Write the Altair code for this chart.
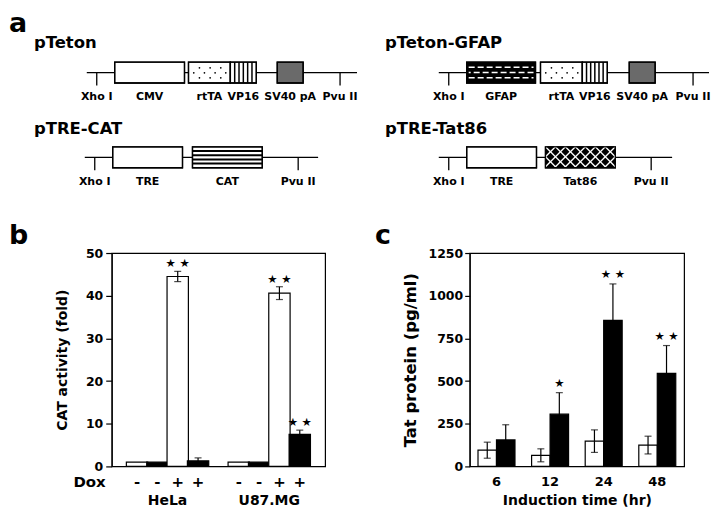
import altair as alt
import pandas as pd

FONT = "DejaVu Sans"

# ---------------- panel a : plasmid maps (map units along each backbone) ----------------
plasmid_names = ["pTeton", "pTeton-GFAP", "pTRE-CAT", "pTRE-Tat86"]
backbone_length = [271, 271, 234, 234]
xho_site = [10, 10, 10, 10]
pvu_site = [254, 255, 214, 213]
element_plasmid = [0, 0, 0, 0, 1, 1, 1, 1, 2, 2, 3, 3]
element_name = ["CMV", "rtTA", "VP16", "SV40 pA", "GFAP", "rtTA", "VP16", "SV40 pA",
                "TRE", "CAT", "TRE", "Tat86"]
element_start = [28, 102, 144, 191, 28, 102, 144, 191, 28, 108, 28, 107]
element_end = [98, 144, 170, 217, 97, 144, 169, 217, 98, 178, 98, 177]
element_pattern = ["open", "dots", "vstripes", "gray", "dashes", "dots", "vstripes", "gray",
                   "open", "hstripes", "open", "crosshatch"]
site_names = ["Xho I", "Pvu II"]
panel_letters = ["a", "b", "c"]

# layout of the four maps (page pixels)
map_origin_x = [86, 439, 84, 439]
map_line_y = [72, 72, 157, 157]
map_title_x = [33, 385, 33, 385]
map_title_y = [47, 47, 134, 134]
BOX_H = 10.5
LABEL_DY = 25
SITE_LEN = 13

# ---------------- panel b : CAT activity ----------------
b_position = [1, 2, 3, 4, 6, 7, 8, 9]
b_cell_line = ["HeLa"] * 4 + ["U87.MG"] * 4
b_bar_fill = ["open", "solid", "open", "solid"] * 2
b_dox = ["-", "-", "+", "+"] * 2
b_value = [1.0, 1.0, 44.5, 1.3, 1.0, 1.0, 40.6, 7.5]
b_err = [0, 0, 1.2, 0.7, 0, 0, 1.5, 1.0]
b_stars = ["", "", "★ ★", "", "", "", "★ ★", "★ ★"]

# ---------------- panel c : Tat protein ----------------
c_time = ["6", "12", "24", "48"]
c_series = ["uninduced", "induced"]
c_uninduced = [95, 65, 148, 125]
c_uninduced_err = [47, 38, 66, 52]
c_induced = [155, 306, 855, 545]
c_induced_err = [89, 126, 214, 163]
c_induced_stars = ["", "★", "★ ★", "★ ★"]

# =============== build panel a ===============
fill_of = {"open": "white", "dots": "white", "vstripes": "white", "gray": "#6a6a6a",
           "dashes": "black", "hstripes": "white", "crosshatch": "black"}

backbone = pd.DataFrame({
    "x": map_origin_x,
    "x2": [o + l for o, l in zip(map_origin_x, backbone_length)],
    "y": map_line_y,
})
site_rows = []
for i in range(4):
    for nm, s in zip(site_names, [xho_site[i], pvu_site[i]]):
        site_rows.append({"x": map_origin_x[i] + s, "y": map_line_y[i],
                          "y2": map_line_y[i] + SITE_LEN, "ly": map_line_y[i] + LABEL_DY, "text": nm})
sites = pd.DataFrame(site_rows)

box_rows, vlines, hlines, dashes, hatch, dots = [], [], [], [], [], []
for p, nm, s, e, pat in zip(element_plasmid, element_name, element_start, element_end, element_pattern):
    ox, ly = map_origin_x[p], map_line_y[p]
    x0, x1, top, bot = ox + s, ox + e, ly - BOX_H, ly + BOX_H
    box_rows.append({"x": x0, "x2": x1, "y": top, "y2": bot, "pattern": pat, "text": nm,
                     "cx": (x0 + x1) / 2, "ly": ly + LABEL_DY})
    if pat == "vstripes":
        n = 6
        for k in range(1, n):
            vlines.append({"x": x0 + k * (x1 - x0) / n, "y": top, "y2": bot})
    elif pat == "hstripes":
        n = 5
        for k in range(1, n):
            hlines.append({"x": x0, "x2": x1, "y": top + k * (bot - top) / n})
    elif pat == "dashes":
        for r, dy in enumerate([-5.3, 0, 5.3]):
            dashes.append({"x": x0 + 2, "x2": x1 - 2, "y": ly + dy, "row": r % 2})
    elif pat == "dots":
        for r, dy in enumerate([-4.7, 0.3, 5.3]):
            xx = x0 + (11 if r % 2 == 0 else 5.3)
            while xx < x1 - 3:
                dots.append({"x": xx, "y": ly + dy})
                xx += 10.7
    elif pat == "crosshatch":
        h, step = bot - top, 10
        c = x0 - 3 * step
        while c <= x1 + 3 * step:
            t0, t1 = max(0, x0 - c), min(h, x1 - c)
            if t1 > t0:
                hatch.append({"x": c + t0, "y": top + t0, "x2": c + t1, "y2": top + t1})
            t0, t1 = max(0, c - x1), min(h, c - x0)
            if t1 > t0:
                hatch.append({"x": c - t0, "y": top + t0, "x2": c - t1, "y2": top + t1})
            c += step
boxes = pd.DataFrame(box_rows)
titles = pd.DataFrame({"x": map_title_x, "y": map_title_y, "text": plasmid_names})

# panel a plot area: page x 111..712, page y 40..188 (content left/above drawn by extrapolation)
AXS = alt.Scale(domain=[111, 712], nice=False, zero=False)
AYS = alt.Scale(domain=[188, 40], nice=False, zero=False)
LETTER_Y = -30


def ax(f):
    return alt.X(f, type="quantitative", scale=AXS, axis=None)


def ay(f):
    return alt.Y(f, type="quantitative", scale=AYS, axis=None)


a_layers = [
    alt.Chart(backbone).mark_rule(color="black", strokeWidth=1.3).encode(x=ax("x"), x2="x2", y=ay("y")),
    alt.Chart(sites).mark_rule(color="black", strokeWidth=1.3).encode(x=ax("x"), y=ay("y"), y2="y2"),
    alt.Chart(boxes).mark_rect(stroke="black", strokeWidth=1.3).encode(
        x=ax("x"), x2="x2", y=ay("y"), y2="y2",
        fill=alt.Fill("pattern:N", scale=alt.Scale(domain=list(fill_of.keys()), range=list(fill_of.values())),
                      legend=None)),
    alt.Chart(pd.DataFrame(vlines)).mark_rule(color="black", strokeWidth=1.5).encode(x=ax("x"), y=ay("y"), y2="y2"),
    alt.Chart(pd.DataFrame(hlines)).mark_rule(color="black", strokeWidth=2).encode(x=ax("x"), x2="x2", y=ay("y")),
    alt.Chart(pd.DataFrame(dashes)).transform_filter("datum.row == 0").mark_rule(
        color="white", strokeWidth=1.6, strokeDash=[6, 3]).encode(x=ax("x"), x2="x2", y=ay("y")),
    alt.Chart(pd.DataFrame(dashes)).transform_filter("datum.row == 1").mark_rule(
        color="white", strokeWidth=1.6, strokeDash=[6, 3], strokeDashOffset=4).encode(x=ax("x"), x2="x2", y=ay("y")),
    alt.Chart(pd.DataFrame(hatch)).mark_rule(color="white", strokeWidth=1.3).encode(
        x=ax("x"), x2="x2", y=ay("y"), y2="y2"),
    alt.Chart(pd.DataFrame(dots)).mark_circle(color="black", size=3, opacity=1).encode(x=ax("x"), y=ay("y")),
    alt.Chart(boxes).mark_rect(stroke="black", strokeWidth=1.3, fillOpacity=0).encode(
        x=ax("x"), x2="x2", y=ay("y"), y2="y2"),
    alt.Chart(boxes).mark_text(font=FONT, fontWeight="bold", fontSize=11, baseline="middle").encode(
        x=ax("cx"), y=ay("ly"), text="text:N"),
    alt.Chart(sites).mark_text(font=FONT, fontWeight="bold", fontSize=11, baseline="middle").encode(
        x=ax("x"), y=ay("ly"), text="text:N"),
    alt.Chart(titles).mark_text(font=FONT, fontWeight="bold", fontSize=16.5, align="left",
                                baseline="alphabetic").encode(x=ax("x"), y=ay("y"), text="text:N"),
    alt.Chart(pd.DataFrame({"t": [panel_letters[0]]})).mark_text(
        font=FONT, fontWeight="bold", fontSize=27, align="left", baseline="top").encode(
        x=alt.value(-103), y=alt.value(LETTER_Y), text="t:N"),
]
panel_a = alt.layer(*a_layers).properties(width=601, height=148,
                                          view=alt.ViewBackground(stroke="transparent"))

# =============== build panel b ===============
b_df = pd.DataFrame({"pos": b_position, "cell": b_cell_line, "pattern": b_bar_fill, "dox": b_dox,
                     "value": b_value, "err": b_err, "star": b_stars})
groups_b = b_df.groupby("cell", as_index=False)["pos"].mean()
B_TITLE = "CAT activity (fold)"


def bx():
    return alt.X("pos", type="quantitative", scale=alt.Scale(domain=[0, 10], nice=False, zero=False), axis=None)


def by(f):
    return alt.Y(f, type="quantitative", title=B_TITLE,
                 scale=alt.Scale(domain=[0, 50], nice=False, zero=True),
                 axis=alt.Axis(values=[0, 10, 20, 30, 40, 50], format="d", tickSize=6, labelPadding=3,
                               labelFontSize=12.5, titleFontSize=14, titlePadding=16))


b_err_base = alt.Chart(b_df).transform_filter("datum.err > 0").transform_calculate(
    lo="datum.value - datum.err", hi="datum.value + datum.err")
b_layers = [
    alt.Chart(b_df).mark_bar(size=21.4, stroke="black", strokeWidth=1.2, orient="vertical").encode(
        x=bx(), y=by("value"),
        fill=alt.Fill("pattern:N", scale=alt.Scale(domain=["open", "solid"], range=["white", "black"]),
                      legend=None)),
    b_err_base.mark_rule(color="black", strokeWidth=1.2).encode(x=bx(), y=by("lo"), y2="hi:Q"),
    b_err_base.mark_tick(color="black", orient="horizontal", size=7, thickness=1.2).encode(x=bx(), y=by("hi")),
    b_err_base.mark_tick(color="black", orient="horizontal", size=7, thickness=1.2).encode(x=bx(), y=by("lo")),
    b_err_base.transform_filter("datum.star != ''").mark_text(
        font=FONT, fontSize=11.5, baseline="middle", dy=-7).encode(x=bx(), y=by("hi"), text="star:N"),
    alt.Chart(b_df).mark_text(font=FONT, fontWeight="bold", fontSize=15, baseline="middle").encode(
        x=bx(), y=alt.value(230), text="dox:N"),
    alt.Chart(groups_b).mark_text(font=FONT, fontWeight="bold", fontSize=14, baseline="middle").encode(
        x=bx(), y=alt.value(249), text="cell:N"),
    alt.Chart(pd.DataFrame({"t": ["Dox"]})).mark_text(
        font=FONT, fontWeight="bold", fontSize=15, baseline="middle", align="right").encode(
        x=alt.value(-6), y=alt.value(230), text="t:N"),
    alt.Chart(pd.DataFrame({"t": [panel_letters[1]]})).mark_text(
        font=FONT, fontWeight="bold", fontSize=27, baseline="top", align="left").encode(
        x=alt.value(-103), y=alt.value(LETTER_Y), text="t:N"),
]
panel_b = alt.layer(*b_layers).properties(width=214, height=214)

# =============== build panel c ===============
c_df = pd.DataFrame({
    "time": c_time * 2,
    "series": [c_series[0]] * 4 + [c_series[1]] * 4,
    "value": c_uninduced + c_induced,
    "err": c_uninduced_err + c_induced_err,
    "star": [""] * 4 + c_induced_stars,
})
C_YTITLE = "Tat protein (pg/ml)"
C_XTITLE = "Induction time (hr)"


def cx():
    return alt.X("time:N", sort=c_time, title=C_XTITLE,
                 scale=alt.Scale(paddingInner=0, paddingOuter=0),
                 axis=alt.Axis(labelAngle=0, ticks=False, domain=False, labelFontSize=13, labelPadding=9,
                               titleFontSize=14, titlePadding=5))


def cxo():
    return alt.XOffset("series:N", sort=c_series, scale=alt.Scale(paddingInner=0, paddingOuter=0.45))


def cy(f):
    return alt.Y(f, type="quantitative", title=C_YTITLE,
                 scale=alt.Scale(domain=[0, 1250], nice=False, zero=True),
                 axis=alt.Axis(values=[0, 250, 500, 750, 1000, 1250], format="d", tickSize=5, labelPadding=2,
                               labelFontSize=12.5, titleFontSize=16.5, titlePadding=10))


c_err_base = alt.Chart(c_df).transform_calculate(lo="datum.value - datum.err", hi="datum.value + datum.err")
c_layers = [
    alt.Chart(c_df).mark_bar(stroke="black", strokeWidth=1.2).encode(
        x=cx(), xOffset=cxo(), y=cy("value"),
        fill=alt.Fill("series:N", scale=alt.Scale(domain=c_series, range=["white", "black"]), legend=None)),
    c_err_base.mark_rule(color="black", strokeWidth=1.2).encode(x=cx(), xOffset=cxo(), y=cy("lo"), y2="hi:Q"),
    c_err_base.mark_tick(color="black", orient="horizontal", size=7, thickness=1.2).encode(
        x=cx(), xOffset=cxo(), y=cy("hi")),
    c_err_base.mark_tick(color="black", orient="horizontal", size=7, thickness=1.2).encode(
        x=cx(), xOffset=cxo(), y=cy("lo")),
    c_err_base.transform_filter("datum.star != ''").mark_text(
        font=FONT, fontSize=11.5, baseline="middle", dy=-9).encode(
        x=cx(), xOffset=cxo(), y=cy("hi"), text="star:N"),
    alt.Chart(pd.DataFrame({"t": [panel_letters[2]]})).mark_text(
        font=FONT, fontWeight="bold", fontSize=27, baseline="top", align="left").encode(
        x=alt.value(-95), y=alt.value(LETTER_Y), text="t:N"),
]
panel_c = alt.layer(*c_layers).properties(width=215, height=214)

bottom = alt.hconcat(panel_b, panel_c, spacing=48).resolve_scale(fill="independent")
chart = alt.vconcat(panel_a, bottom, spacing=32).resolve_scale(fill="independent").properties(
    padding=0, background="white"
).configure_view(stroke="black", strokeWidth=1.2).configure_axis(
    grid=False, domainColor="black", domainWidth=1.2, tickColor="black", tickWidth=1.2,
    labelColor="black", titleColor="black", labelFont=FONT, titleFont=FONT,
    labelFontWeight="bold", titleFontWeight="bold")

chart.save("out.html", embed_options={"renderer": "svg", "actions": False})
